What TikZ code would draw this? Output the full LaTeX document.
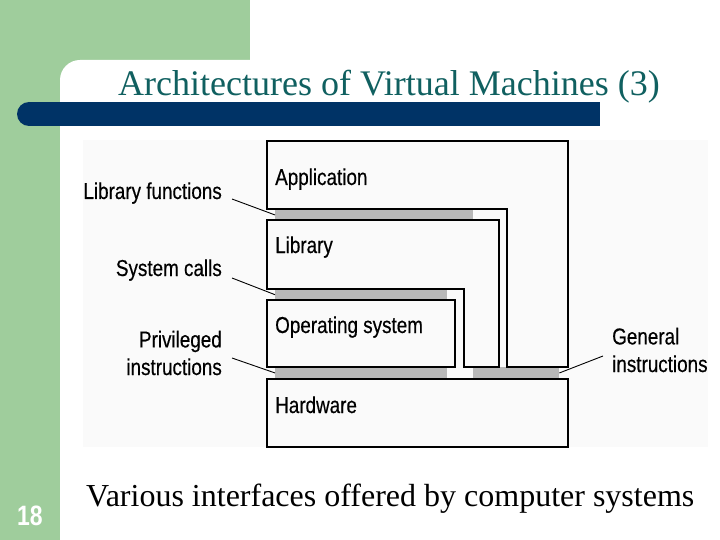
\documentclass[tikz,border=0pt]{standalone}
\usepackage{fontspec}
\setmainfont{Liberation Serif}
\newfontfamily\narrowsans[FakeStretch=0.82, FakeBold=0.4]{Liberation Sans}
\newfontfamily\numsans[FakeStretch=0.82]{Liberation Sans}
\definecolor{slidegreen}{RGB}{159,205,156}
\definecolor{slideblue}{RGB}{0,51,102}
\definecolor{titleteal}{RGB}{16,96,96}
\definecolor{bargray}{RGB}{184,184,184}
\definecolor{figbg}{RGB}{250,250,250}
\begin{document}
\begin{tikzpicture}[x=1pt,y=-1pt,
  lbl/.style={font=\narrowsans\fontsize{23}{27.6}\selectfont, inner sep=0pt},
  thinline/.style={line width=1.2pt, line join=miter},
  thickline/.style={line width=2.6pt, line cap=rect},
  bar/.style={fill=bargray, draw=none, inner sep=0pt, anchor=north west, minimum height=11.5pt},
  leader/.style={line width=0.9pt}]
\useasboundingbox (0,0) rectangle (720,540);
\clip (0,0) rectangle (720,540);
% slide background
\fill[white] (0,0) rectangle (720,540);
\fill[slidegreen] (0,0) rectangle (250,60);
\fill[slidegreen] (0,0) rectangle (60,540);
\fill[slidegreen] (60,60) rectangle (90,90);
\fill[white, rounded corners=20pt] (60,60) rectangle (760,600);
\fill[slideblue] (29,102) rectangle (600,126);
\fill[slideblue] (29,114) circle (12);
\node[font=\fontsize{36}{40}\selectfont, text=titleteal, anchor=base west, inner sep=0pt] (title) at (118,96) {Architectures of Virtual Machines (3)};
\node[font=\numsans\bfseries\fontsize{28}{30}\selectfont, text=white, inner sep=0pt] (num) at (30,516) {18};
\node[font=\fontsize{32}{36}\selectfont, anchor=base west, inner sep=0pt] (cap) at (86,506) {Various interfaces offered by computer systems};
% figure background
\fill[figbg] (83,140) rectangle (708,447);
% interface bars
\node[bar, minimum width=198pt] (b1) at (275,209) {};
\node[bar, minimum width=172pt, minimum height=11pt] (b2) at (275,289) {};
\node[bar, minimum width=172pt] (b3) at (275,367) {};
\node[bar, minimum width=86pt] (b4) at (473,367) {};
% Application (inverted L)
\draw[thinline] (267,209) -- (267,141) -- (568,141) -- (568,367) -- (507,367);
\draw[thickline] (267,209) -- (507,209) -- (507,367);
% Library (inverted L)
\draw[thinline] (267,220) -- (499,220) -- (499,367) -- (464,367) -- (464,289) -- (267,289) -- cycle;
% Operating system
\draw[thinline] (267,300) -- (267,367);
\draw[thickline] (267,300) -- (455,300) -- (455,367) -- (267,367);
% Hardware
\draw[thinline] (267,379) rectangle (568,447);
% box texts
\node[lbl, anchor=base west] (app) at (275,185) {Application};
\node[lbl, anchor=base west] (lib) at (275,253) {Library};
\node[lbl, anchor=base west] (os) at (275,333) {Operating system};
\node[lbl, anchor=base west] (hw) at (275,413) {Hardware};
% interface labels
\node[lbl, anchor=base east] (lf) at (222,199) {Library functions};
\node[lbl, anchor=base east] (sc) at (222,276) {System calls};
\node[lbl, anchor=east, align=right] (pi) at (222,353) {Privileged\\instructions};
\node[lbl, anchor=west, align=left] (gi) at (612,350) {General\\instructions};
% leaders
\draw[leader] ([xshift=10pt]lf.base east) -- (b1.west);
\draw[leader] ([xshift=10pt, yshift=-2pt]sc.base east) -- (b2.west);
\draw[leader] ([xshift=10pt, yshift=-5pt]pi.east) -- (b3.west);
\draw[leader] ([xshift=-9pt, yshift=-6pt]gi.west) -- (b4.east);
\end{tikzpicture}
\end{document}
